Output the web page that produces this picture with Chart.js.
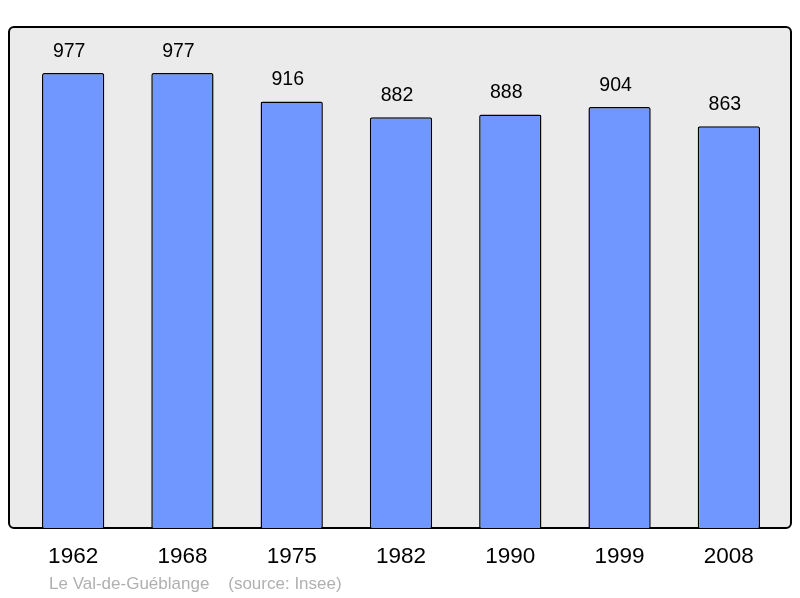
<!DOCTYPE html>
<html>
<head>
<meta charset="utf-8">
<script src="https://cdn.jsdelivr.net/npm/chart.js@4"></script>
<style>
  body { margin: 0; background: #fff; }
  canvas { display: block; }
</style>
</head>
<body>
<canvas id="popChart" width="800" height="598"></canvas>
<script>
const years = ['1962', '1968', '1975', '1982', '1990', '1999', '2008'];
const population = [977, 977, 916, 882, 888, 904, 863];
const sourceText = 'Le Val-de-Guéblange    (source: Insee)';

// grey frame behind the bars + labels drawn from the scales
const framePlugin = {
    id: 'frame',
    beforeDraw(chart) {
        const c = chart.ctx;
        c.save();
        c.fillStyle = '#ebebeb';
        c.strokeStyle = '#000';
        c.lineWidth = 2;
        c.beginPath();
        c.roundRect(9, 27, 782, 501, 5);
        c.fill();
        c.stroke();
        c.restore();
    },
    afterDraw(chart) {
        const c = chart.ctx;
        const x = chart.scales.x;
        const y = chart.scales.y;
        c.save();
        c.fillStyle = '#000';
        c.textAlign = 'center';
        c.textBaseline = 'middle';
        c.font = '19.5px "Liberation Sans", Arial, sans-serif';
        population.forEach((v, i) => {
            c.fillText(String(v), x.getPixelForValue(i) - 4, y.getPixelForValue(v) - 21.5);
        });
        c.font = '22.5px "Liberation Sans", Arial, sans-serif';
        years.forEach((yr, i) => {
            c.fillText(yr, x.getPixelForValue(i), 557);
        });
        c.fillStyle = '#b0b0b0';
        c.textAlign = 'left';
        c.font = '17px "Liberation Sans", Arial, sans-serif';
        c.fillText(sourceText, 49, 584);
        c.restore();
    }
};

new Chart(document.getElementById('popChart'), {
    type: 'bar',
    data: {
        labels: years,
        datasets: [{
            data: population,
            backgroundColor: '#7096ff',
            borderColor: '#000',
            borderWidth: 1.5,
            borderRadius: 2,
            borderSkipped: 'bottom',
            barPercentage: 0.57,
            categoryPercentage: 1
        }]
    },
    options: {
        responsive: false,
        animation: false,
        layout: { padding: { left: 18.5, right: 16.5, top: 27, bottom: 70 } },
        plugins: { legend: { display: false }, tooltip: { enabled: false } },
        scales: {
            x: { display: false },
            y: { display: false, min: 0, max: 1076 }
        }
    },
    plugins: [framePlugin]
});
</script>
</body>
</html>
